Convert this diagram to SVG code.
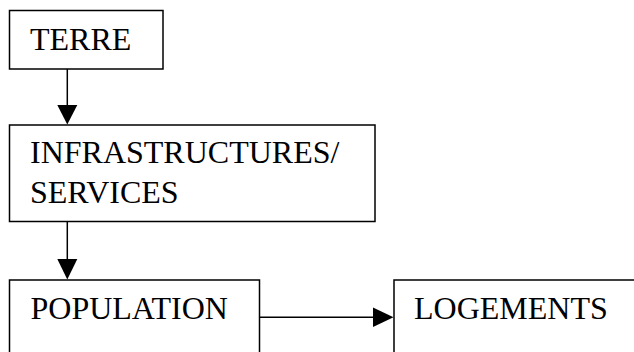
<svg xmlns="http://www.w3.org/2000/svg" width="634" height="352" viewBox="0 0 634 352">
<style>
.box{fill:#fff;stroke:#000;stroke-width:1.5}
.lbl{font-size:32px;fill:#000}
.edge{stroke:#000;stroke-width:1.5;fill:none}
.head{fill:#000}
</style>
<rect width="634" height="352" fill="#fff"/>
<g font-family="Liberation Serif, Times New Roman, Times, serif">
<g id="terre">
<rect class="box" x="9.5" y="10.5" width="153.5" height="58.5"/>
<text class="lbl" x="30" y="50">TERRE</text>
</g>
<g id="infrastructures">
<rect class="box" x="9.5" y="125" width="365.5" height="96.5"/>
<text class="lbl" x="30" y="163">INFRASTRUCTURES/</text>
<text class="lbl" x="30" y="202.5">SERVICES</text>
</g>
<g id="population">
<rect class="box" x="9.5" y="280" width="250" height="90"/>
<text class="lbl" x="30.5" y="319">POPULATION</text>
</g>
<g id="logements">
<rect class="box" x="394" y="280" width="260" height="90"/>
<text class="lbl" x="414" y="319">LOGEMENTS</text>
</g>
</g>
<g id="connectors">
<line class="edge" x1="67.3" y1="69" x2="67.3" y2="106"/>
<polygon class="head" points="57.3,105 77.3,105 67.3,124.5"/>
<line class="edge" x1="67.3" y1="221.5" x2="67.3" y2="260"/>
<polygon class="head" points="57.3,259 77.3,259 67.3,279.5"/>
<line class="edge" x1="259.5" y1="317.3" x2="374" y2="317.3"/>
<polygon class="head" points="373,307.5 373,327 393.5,317.3"/>
</g>
</svg>
